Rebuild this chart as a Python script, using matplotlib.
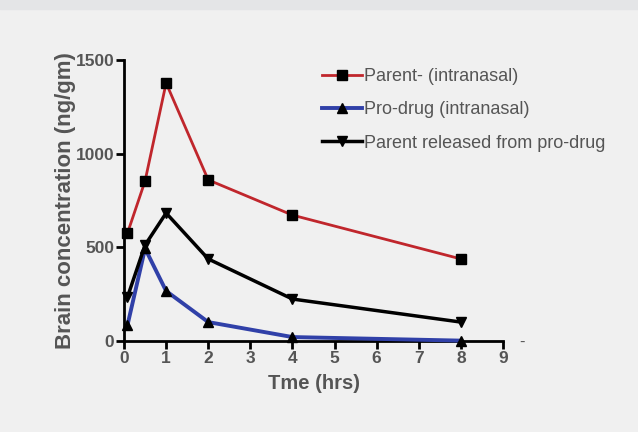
import matplotlib
matplotlib.use('Agg')
import matplotlib.pyplot as plt
from matplotlib.patches import Rectangle

t = [0.083, 0.5, 1, 2, 4, 8]
parent = [576, 854, 1377, 860, 672, 438]
prodrug = [85, 494, 267, 101, 21, 2]
released = [235, 512, 683, 438, 224, 101]

xticks = list(range(0, 10))
yticks = [0, 500, 1000, 1500]

plt.rcParams['font.family'] = ['Liberation Sans', 'DejaVu Sans']
grey = '#555555'

fig = plt.figure(figsize=(6.38, 4.32), dpi=100, facecolor='#f0f0f0')
fig.patches.append(Rectangle((0, 1 - 9 / 432), 1, 9 / 432, transform=fig.transFigure,
                             color='#e4e5e7', zorder=0))
ax = fig.add_axes([124 / 638, 91 / 432, 379 / 638, 281 / 432])
ax.set_facecolor('#f0f0f0')

ax.plot(t, parent, color='#c0262c', lw=2, marker='s', ms=7, mfc='black', mec='black',
        label='Parent- (intranasal)', clip_on=False, zorder=3)
ax.plot(t, prodrug, color='#3040a8', lw=2.8, marker='^', ms=7, mfc='black', mec='black',
        label='Pro-drug (intranasal)', clip_on=False, zorder=3)
ax.plot(t, released, color='black', lw=2.5, marker='v', ms=7, mfc='black', mec='black',
        label='Parent released from pro-drug', clip_on=False, zorder=4)

ax.set_xlim(0, 9)
ax.set_ylim(0, 1500)
ax.set_xticks(xticks)
ax.set_yticks(yticks)
for s in ['top', 'right']:
    ax.spines[s].set_visible(False)
for s in ['left', 'bottom']:
    ax.spines[s].set_linewidth(2)
ax.tick_params(width=2, length=6, direction='out', labelsize=12.5, labelcolor=grey, pad=1)
for lb in ax.get_xticklabels() + ax.get_yticklabels():
    lb.set_fontweight('bold')

ax.set_xlabel('Tme (hrs)', fontsize=14.5, fontweight='bold', color=grey, labelpad=6)
ax.set_ylabel('Brain concentration (ng/gm)', fontsize=16, fontweight='bold', color=grey, labelpad=0)

fig.text(522 / 638, 1 - 342 / 432, '-', fontsize=12, color=grey, ha='center', va='center')

leg = ax.legend(loc='upper left', bbox_to_anchor=(322 / 638, 1 - 68 / 432), bbox_transform=fig.transFigure,
                frameon=False, fontsize=13, handlelength=2.2, handletextpad=0.15,
                labelspacing=0.9, borderaxespad=0, borderpad=0)
for txt in leg.get_texts():
    txt.set_color(grey)

fig.savefig('out.png', dpi=100, facecolor=fig.get_facecolor())
